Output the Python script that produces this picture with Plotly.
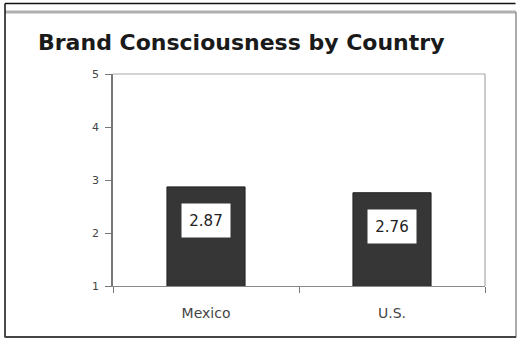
import plotly.graph_objects as go

# Mean brand-consciousness score per country (scale 1-5)
countries = ["Mexico", "U.S."]
scores = [2.87, 2.76]
y_ticks = [1, 2, 3, 4, 5]

FONT = "DejaVu Sans"

fig = go.Figure(
    go.Bar(
        x=countries,
        y=scores,
        width=0.42,
        marker=dict(color="#363636", line=dict(color="#222222", width=1)),
        hoverinfo="skip",
    )
)

# value labels in white boxes inside the bars
for c, v in zip(countries, scores):
    fig.add_annotation(
        x=c, y=v, text=f"{v:.2f}", showarrow=False,
        yanchor="top", yshift=-16,
        bgcolor="white", width=44, height=29, borderpad=2,
        font=dict(family=FONT, size=15, color="#222222"),
    )

# plot-area border (top/right) and the outer frame of the chart
frame = [
    # top and right edges of the plot area
    dict(x0=0, x1=1, y0=1, y1=1, color="#a8a8a8", width=1.2),
    dict(x0=1, x1=1, y0=0, y1=1, color="#a8a8a8", width=1.2),
    # outer chart frame
    dict(x0=-0.2903, x1=1.0820, y0=1.3325, y1=1.3325, color="#111111", width=1.5),
    dict(x0=-0.2903, x1=1.0833, y0=1.2925, y1=1.2925, color="#b0b0b0", width=3),
    dict(x0=-0.2903, x1=-0.2903, y0=-0.2430, y1=1.3325, color="#111111", width=1.5),
    dict(x0=1.0833, x1=1.0833, y0=-0.2430, y1=1.2925, color="#909090", width=1.5),
    dict(x0=-0.2903, x1=1.0833, y0=-0.2406, y1=-0.2406, color="#444444", width=2),
]
for s in frame:
    fig.add_shape(
        type="line", xref="paper", yref="paper",
        x0=s["x0"], x1=s["x1"], y0=s["y0"], y1=s["y1"],
        line=dict(color=s["color"], width=s["width"]),
        layer="above",
    )

fig.update_layout(
    width=517, height=338,
    margin=dict(l=113, r=32, t=74, b=52),
    paper_bgcolor="white", plot_bgcolor="white",
    showlegend=False,
    title=dict(
        text="<b>Brand Consciousness by Country</b>",
        font=dict(family=FONT, size=22, color="#1a1a1a"),
        xref="container", yref="container",
        x=38 / 517, xanchor="left", y=1 - 42 / 338, yanchor="middle",
    ),
    xaxis=dict(
        type="category",
        tickson="boundaries", ticks="outside", ticklen=6, tickcolor="#777777",
        showline=True, linecolor="#888888", linewidth=1.2,
        showgrid=False, ticklabelstandoff=14,
        tickfont=dict(family=FONT, size=14, color="#444444"),
    ),
    yaxis=dict(
        range=[1, 5], tickvals=y_ticks,
        ticks="outside", ticklen=6, tickcolor="#777777",
        showline=True, linecolor="#777777", linewidth=1.5,
        showgrid=False, zeroline=False, ticklabelstandoff=4,
        tickfont=dict(family=FONT, size=11, color="#444444"),
    ),
)

fig.write_html("out.html")
